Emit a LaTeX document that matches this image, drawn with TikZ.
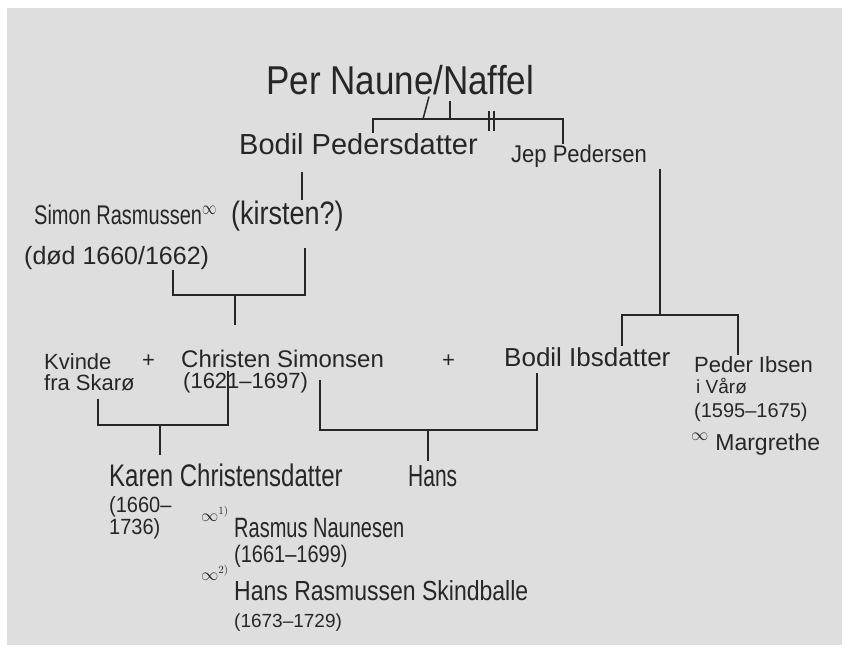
\documentclass[tikz,border=0pt]{standalone}
\usepackage{graphicx}
\usepackage{fontspec}
\setmainfont{Liberation Sans}
\newcommand{\hw}[1]{\fontsize{#1}{#1}\selectfont}
\newcommand{\st}[2]{\scalebox{1}[#1]{#2}}
\definecolor{ink}{gray}{0.15}
\definecolor{paper}{gray}{0.87}
\tikzset{
  txt/.style={inner sep=1pt, anchor=base west, text=ink},
  line/.style={draw=ink, line width=1.5pt},
}
\begin{document}
\begin{tikzpicture}[x=1pt,y=-1pt]
	\useasboundingbox (0,0) rectangle (851,655);
	\fill[paper] (7,8) rectangle (842,645);
	% names
	\node[txt, font=\hw{35}] (per) at (265,95) {\st{1.15}{Per Naune/Naffel}};
	\node[txt, font=\hw{29}] (bodil) at (238,155) {Bodil Pedersdatter};
	\node[txt, font=\hw{22}] (jep) at (510,163) {\st{1.1}{Jep Pedersen}};
	\node[txt, font=\hw{20}] (simon) at (33,225) {\st{1.35}{Simon Rasmussen$^{\infty}$}};
	\node[txt, font=\hw{27}] (kirsten) at (230,225) {\st{1.2}{(kirsten?)}};
	\node[txt, font=\hw{25}] (simondates) at (23,264) {(død 1660/1662)};
	\node[txt, font=\hw{22}] (kvinde) at (43,369) {Kvinde};
	\node[txt, font=\hw{22}] (skaro) at (43,390) {fra Skarø};
	\node[txt, font=\hw{22}] (plusA) at (141,367) {+};
	\node[txt, font=\hw{24}] (christen) at (180,367) {Christen Simonsen};
	\node[txt, font=\hw{22}] (christendates) at (182,388) {(1621–1697)};
	\node[txt, font=\hw{22}] (plusB) at (441,367) {+};
	\node[txt, font=\hw{26}] (bodilibs) at (503,366) {Bodil Ibsdatter};
	\node[txt, font=\hw{22}] (peder) at (693,372) {Peder Ibsen};
	\node[txt, font=\hw{19}] (vaaro) at (695,393) {i Vårø};
	\node[txt, font=\hw{20}] (pederdates) at (693,417) {(1595–1675)};
	\node[txt, font=\hw{23}] (margrethe) at (690,450) {$^{\infty}$ Margrethe};
	\node[txt, font=\hw{24}] (karen) at (108,486) {\st{1.3}{Karen Christensdatter}};
	\node[txt, font=\hw{20}] (karenbirth) at (108,512) {\st{1.1}{(1660–}};
	\node[txt, font=\hw{20}] (karendeath) at (108,534) {\st{1.1}{1736)}};
	\node[txt, font=\hw{16}] (mA) at (200,521) {$\infty^{1)}$};
	\node[txt, font=\hw{20}] (rasmus) at (233,537) {\st{1.4}{Rasmus Naunesen}};
	\node[txt, font=\hw{20}] (rasmusdates) at (233,562) {\st{1.2}{(1661–1699)}};
	\node[txt, font=\hw{16}] (mB) at (200,580) {$\infty^{2)}$};
	\node[txt, font=\hw{23}] (hansskind) at (233,600) {\st{1.2}{Hans Rasmussen Skindballe}};
	\node[txt, font=\hw{19}] (hansdates) at (233,627) {(1673–1729)};
	\node[txt, font=\hw{21}] (hans) at (407,486) {\st{1.45}{Hans}};
	% junctions
	\coordinate (perJ) at (423,119);
	\coordinate (simJ) at (235,295);
	\coordinate (kvJ) at (160,425);
	\coordinate (chJ) at (428,430);
	\coordinate (jepJ) at (660,315);
	% lines
	\draw[line] (per.south -| 429,0) -- (perJ);
	\draw[line] (450,101) -- (450,119);
	\draw[line] (489,111) -- (489,131);
	\draw[line] (494,111) -- (494,131);
	\draw[line] (bodil.north -| 373,0) |- (perJ) -| (jep.north -| 563,0);
	\draw[line, shorten <=16pt] (bodil.south -| 302,0) -- (kirsten.north -| 302,0);
	\draw[line, shorten >=15pt] (simondates.south -| 173,0) |- (simJ) -| (kirsten.south -| 305,0);
	\draw[line, shorten >=23pt] (simJ) -- (christen.north -| simJ);
	\draw[line, shorten <=7pt] (skaro.south -| 98,0) |- (kvJ) -| (christendates.north -| 228,0);
	\draw[line, shorten >=7pt] (kvJ) -- (karen.north -| kvJ);
	\draw[line, shorten <=12pt, shorten >=6pt] (christen.south -| 320,0) |- (chJ) -| (bodilibs.south -| 537,0);
	\draw[line, shorten >=3pt] (chJ) -- (hans.north -| chJ);
	\draw[line] (jep.south -| 660,0) -- (jepJ);
	\draw[line] (bodilibs.north -| 622,0) |- (jepJ) -| (peder.north -| 738,0);
\end{tikzpicture}
\end{document}
